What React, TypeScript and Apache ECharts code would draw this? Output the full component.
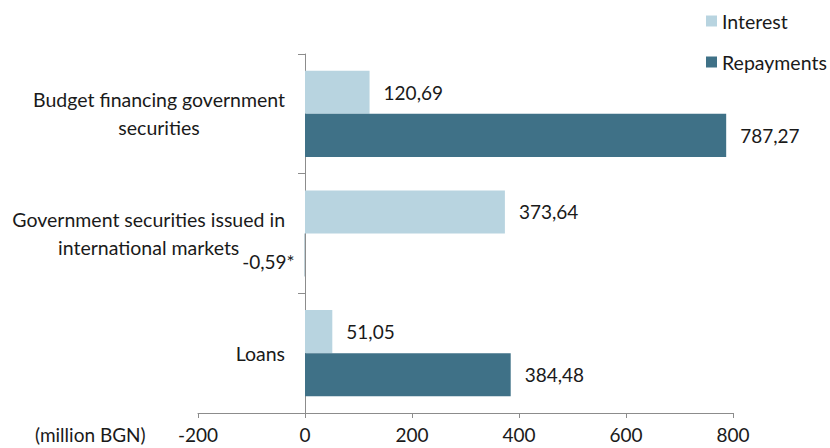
import React, { useEffect, useRef } from "react";
import * as echarts from "echarts";

const categories = [
  "Budget financing government\nsecurities",
  "Government securities issued in\ninternational markets",
  "Loans",
];
const interestValues = [120.69, 373.64, 51.05];
const repaymentValues = [787.27, -0.59, 384.48];
const xTicks = { min: -200, max: 800, interval: 200 };
const unitLabel = "(million BGN)";

const FONT = "Lato";
const TEXT = "#1a1a1a";
const AXIS = "#8c8c8c";

const fmt = (v: number) => v.toFixed(2).replace(".", ",");

export default function App() {
  const ref = useRef<HTMLDivElement>(null);
  useEffect(() => {
    if (!ref.current) return;
    const chart = echarts.init(ref.current, undefined, { renderer: "svg" });
    chart.setOption({
      animation: false,
      textStyle: { fontFamily: FONT, color: TEXT },
      grid: {
        left: 198,
        right: 97,
        top: 54,
        bottom: 35,
        containLabel: false,
        outerBoundsMode: "none",
      },
      legend: {
        orient: "vertical",
        left: 706,
        top: 11,
        width: 124,
        padding: 0,
        itemWidth: 11,
        itemHeight: 11,
        itemGap: 21,
        icon: "rect",
        textStyle: { fontFamily: FONT, fontSize: 19.5, color: TEXT },
        data: ["Interest", "Repayments"],
      },
      xAxis: {
        type: "value",
        min: xTicks.min,
        max: xTicks.max,
        interval: xTicks.interval,
        splitLine: { show: false },
        axisLine: { show: true, lineStyle: { color: AXIS, width: 1 } },
        axisTick: { show: true, length: 5, lineStyle: { color: AXIS } },
        axisLabel: { fontFamily: FONT, fontSize: 19, color: TEXT, margin: 12 },
      },
      yAxis: {
        type: "category",
        inverse: true,
        data: categories,
        axisLine: { show: true, onZero: true, lineStyle: { color: AXIS, width: 1 } },
        axisTick: { show: true, length: 7, lineStyle: { color: AXIS } },
        axisLabel: {
          margin: -87,
          formatter: (v: string) =>
            v
              .split("\n")
              .map((l) => `{c|${l}}`)
              .join("\n"),
          rich: {
            c: { fontFamily: FONT, fontSize: 19.5, color: TEXT, align: "center", lineHeight: 28 },
          },
        },
      },
      graphic: [
        {
          type: "text",
          left: 35,
          top: 425,
          style: { text: unitLabel, fontFamily: FONT, fontSize: 19, fill: TEXT },
        },
      ],
      series: [
        {
          name: "Interest",
          type: "bar",
          data: interestValues,
          barCategoryGap: "28%",
          barGap: "0%",
          itemStyle: { color: "#b8d4e0" },
          label: {
            show: true,
            position: "right",
            distance: 14,
            fontFamily: FONT,
            fontSize: 19,
            color: TEXT,
            formatter: (p: any) => fmt(p.value),
          },
        },
        {
          name: "Repayments",
          type: "bar",
          data: repaymentValues.map((v) =>
            v < 0
              ? { value: v, label: { position: "left", distance: 10, offset: [0, 6] } }
              : v
          ),
          barCategoryGap: "28%",
          barGap: "0%",
          itemStyle: { color: "#3f7187" },
          label: {
            show: true,
            position: "right",
            distance: 14,
            fontFamily: FONT,
            fontSize: 19,
            color: TEXT,
            formatter: (p: any) => (p.value < 0 ? fmt(p.value) + "*" : fmt(p.value)),
          },
        },
      ],
    });
    return () => chart.dispose();
  }, []);
  return (
    <div
      ref={ref}
      style={{ position: "absolute", left: 0, top: 0, width: 830, height: 448 }}
    />
  );
}
